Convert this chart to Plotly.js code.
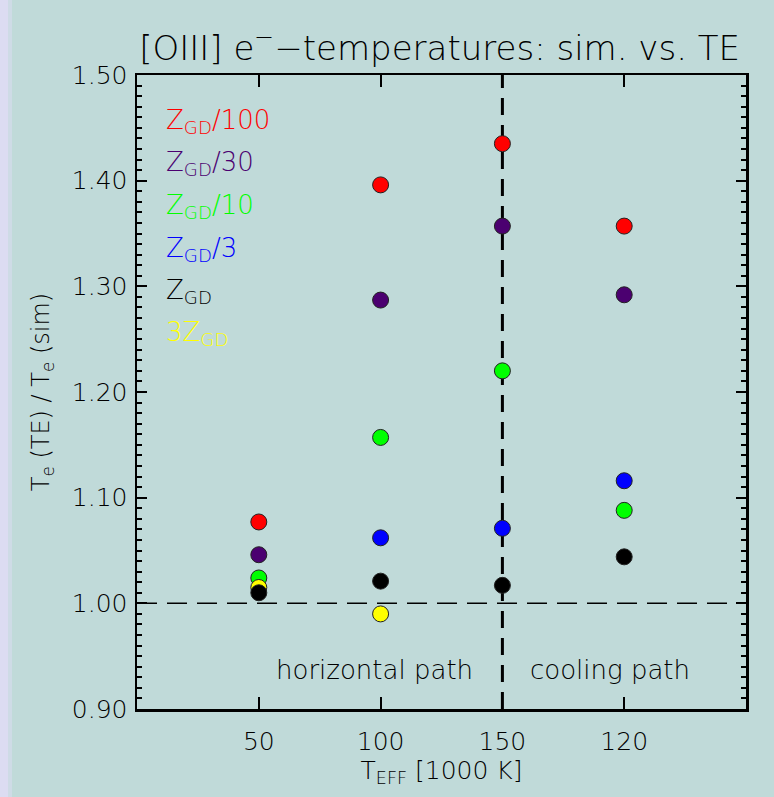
<!DOCTYPE html>
<html>
<head>
<meta charset="utf-8">
<script src="https://cdn.plot.ly/plotly-3.0.1.min.js"></script>
<style>
html,body{margin:0;padding:0;background:#c0dad9;}
#chart{width:774px;height:797px;}
</style>
</head>
<body>
<div id="chart"></div>
<script>
// Category positions and labels on the x axis
const xPos = [1, 2, 3, 4];
const xLabels = ['50', '100', '150', '120'];

// Series values: Te(TE)/Te(sim)
const zgd100 = [1.077, 1.396, 1.435, 1.357];
const zgd30  = [1.046, 1.287, 1.357, 1.292];
const zgd10  = [1.024, 1.157, 1.220, 1.088];
const zgd3   = [null, 1.062, 1.071, 1.116];
const zgd3x  = [1.015, 0.990, null, null];
const zgd1   = [1.010, 1.021, 1.017, 1.044];

const seriesNames = ['Z<sub>GD</sub>/100', 'Z<sub>GD</sub>/30', 'Z<sub>GD</sub>/10', 'Z<sub>GD</sub>/3', 'Z<sub>GD</sub>', '3Z<sub>GD</sub>'];
const seriesColors = ['#ff0000', '#4b0070', '#00ff00', '#0000ff', '#000000', '#ffff00'];
const legendY = [1.456, 1.416, 1.376, 1.335, 1.295, 1.255];

const yTickVals = [0.9, 1.0, 1.1, 1.2, 1.3, 1.4, 1.5];

const FONT = 'DejaVu Sans, sans-serif';

// drawing order: red, purple, green, blue, yellow, black
const order = [
  {y: zgd100, c: seriesColors[0], n: seriesNames[0]},
  {y: zgd30,  c: seriesColors[1], n: seriesNames[1]},
  {y: zgd10,  c: seriesColors[2], n: seriesNames[2]},
  {y: zgd3,   c: seriesColors[3], n: seriesNames[3]},
  {y: zgd3x,  c: seriesColors[5], n: seriesNames[5]},
  {y: zgd1,   c: seriesColors[4], n: seriesNames[4]}
];

const traces = order.map(s => ({
  type: 'scatter', mode: 'markers', x: xPos, y: s.y, name: s.n,
  marker: {size: 16, color: s.c, line: {color: '#222222', width: 1}},
  showlegend: false, hoverinfo: 'skip'
}));

const annotations = seriesNames.map((n, i) => ({
  xref: 'paper', yref: 'y', x: 0.045, y: legendY[i], xanchor: 'left', yanchor: 'middle',
  text: n, showarrow: false, font: {family: FONT, size: 26, color: seriesColors[i], weight: 300}
}));
annotations.push({xref: 'x', yref: 'y', x: 1.95, y: 0.937, text: 'horizontal path', showarrow: false,
  font: {family: FONT, size: 26, color: '#000', weight: 300}});
annotations.push({xref: 'x', yref: 'y', x: 3.88, y: 0.937, text: 'cooling path', showarrow: false,
  font: {family: FONT, size: 26, color: '#000', weight: 300}});

const layout = {
  width: 774, height: 797,
  margin: {l: 137, r: 28, t: 75, b: 88},
  paper_bgcolor: '#c0dad9', plot_bgcolor: '#c0dad9',
  font: {family: FONT, color: '#000', weight: 300},
  title: {text: '[OIII] e<sup>−</sup>−temperatures: sim. vs. TE', x: 0.568, xanchor: 'center',
          y: 0.94, yanchor: 'middle', font: {family: FONT, size: 34, color: '#000', weight: 300}},
  xaxis: {
    range: [0, 5], tickvals: xPos, ticktext: xLabels, ticks: 'inside', ticklen: 12, tickwidth: 2,
    tickcolor: '#000', mirror: 'ticks', showline: true, linewidth: 2.5, linecolor: '#000',
    showgrid: false, zeroline: false, tickfont: {family: FONT, size: 25, color: '#000', weight: 300},
    ticklabelstandoff: 8,
    title: {text: 'T<sub>EFF</sub> [1000 K]', font: {family: FONT, size: 25, color: '#000', weight: 300}, standoff: 4}
  },
  yaxis: {
    range: [0.9, 1.5], tickvals: yTickVals, tickformat: '.2f', ticks: 'inside', ticklen: 10, tickwidth: 2,
    tickcolor: '#000', mirror: 'ticks', showline: true, linewidth: 2.5, linecolor: '#000',
    showgrid: false, zeroline: false, tickfont: {family: FONT, size: 25, color: '#000', weight: 300},
    ticklabelstandoff: 2,
    minor: {dtick: 0.01, ticks: 'inside', ticklen: 5, tickwidth: 2, tickcolor: '#000', showgrid: false},
    title: {text: 'T<sub>e</sub> (TE) / T<sub>e</sub> (sim)', font: {family: FONT, size: 24, color: '#000', weight: 300}, standoff: 16}
  },
  shapes: [
    {type: 'line', xref: 'x', yref: 'y', x0: 0, x1: 5, y0: 1.0, y1: 1.0, layer: 'below',
     line: {color: '#000', width: 1.5, dash: '20px,10px'}},
    {type: 'line', xref: 'x', yref: 'y', x0: 3, x1: 3, y0: 0.9, y1: 1.5, layer: 'below',
     line: {color: '#000', width: 3, dash: '17px,10px'}},
    {type: 'rect', xref: 'paper', yref: 'paper', x0: -137/609, x1: -129/609, y0: -88/634, y1: 1 + 75/634,
     line: {width: 0}, fillcolor: '#dcdcf2', layer: 'below'},
    {type: 'rect', xref: 'paper', yref: 'paper', x0: -129/609, x1: -125/609, y0: -88/634, y1: 1 + 75/634,
     line: {width: 0}, fillcolor: '#cedbe6', layer: 'below'}
  ],
  annotations: annotations
};

Plotly.newPlot('chart', traces, layout, {displayModeBar: false, staticPlot: true});
</script>
</body>
</html>
